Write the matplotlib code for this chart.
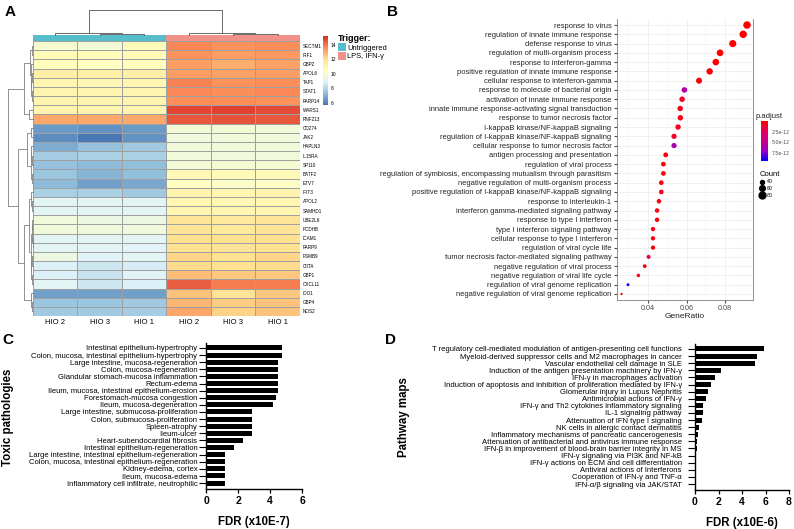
import numpy as np
import matplotlib
matplotlib.use("Agg")
import matplotlib.pyplot as plt
from matplotlib.colors import LinearSegmentedColormap, ListedColormap, Normalize
from matplotlib.patches import Patch
from matplotlib.lines import Line2D

plt.rcParams.update({
    "font.family": ["Liberation Sans", "DejaVu Sans"],
    "font.size": 6,
    "axes.linewidth": 0.8,
})

W, H = 794, 529   # figure size in px

# ── Panel A data: heatmap ─────────────────────────────────────────────────────
samples = ["HIO 2", "HIO 3", "HIO 1", "HIO 2", "HIO 3", "HIO 1"]
trigger = ["Untriggered"] * 3 + ["LPS, IFN-γ"] * 3
trigger_levels = ["Untriggered", "LPS, IFN-γ"]
genes = ["SECTM1", "IRF1", "GBP2", "APOL6", "TAP1", "STAT1", "PARP14", "WARS1",
         "RNF213", "CD274", "JAK2", "HAPLN3", "IL15RA", "SP110", "BATF2", "ETV7",
         "IFIT3", "APOL2", "SAMHD1", "UBE2L6", "PCDHB", "ICAM1", "PARP9", "PSMB9",
         "CIITA", "GBP1", "CXCL11", "IDO1", "GBP4", "NOS2"]
expr = np.array([
    [10.0, 9.8, 10.6, 13.7, 13.5, 13.6],
    [10.7, 10.6, 10.7, 13.5, 13.3, 13.4],
    [10.5, 10.4, 10.5, 13.3, 13.0, 13.2],
    [11.3, 11.2, 11.3, 13.3, 13.2, 13.3],
    [10.9, 10.8, 10.9, 13.8, 13.5, 13.6],
    [11.0, 11.0, 11.0, 13.7, 13.6, 13.7],
    [11.0, 11.0, 11.0, 13.6, 13.6, 13.5],
    [11.0, 11.0, 11.0, 14.8, 14.9, 14.7],
    [13.1, 13.1, 13.1, 14.5, 14.6, 14.5],
    [6.5, 6.3, 6.5, 9.8, 9.8, 9.7],
    [6.2, 5.8, 6.3, 9.6, 9.7, 9.7],
    [6.9, 7.4, 7.6, 9.7, 9.7, 9.7],
    [7.7, 7.8, 7.8, 9.7, 9.7, 9.7],
    [7.4, 7.2, 7.3, 9.8, 9.9, 9.9],
    [7.5, 7.1, 7.3, 10.8, 10.7, 10.7],
    [7.2, 6.6, 6.8, 10.4, 10.2, 10.3],
    [7.8, 7.8, 7.6, 11.0, 10.9, 11.0],
    [9.0, 9.0, 9.0, 10.9, 10.8, 10.9],
    [9.0, 9.0, 9.0, 10.9, 10.9, 10.9],
    [9.7, 9.5, 9.5, 11.8, 11.6, 11.8],
    [9.7, 9.6, 9.6, 11.8, 11.6, 11.8],
    [9.0, 9.0, 9.0, 12.0, 12.0, 12.0],
    [9.0, 9.0, 8.9, 12.0, 11.8, 12.0],
    [9.5, 8.9, 9.0, 12.2, 12.0, 12.2],
    [8.8, 8.5, 8.7, 12.1, 12.0, 12.1],
    [8.8, 8.4, 8.9, 12.7, 12.5, 12.5],
    [9.0, 8.5, 8.8, 14.4, 13.9, 13.9],
    [6.6, 6.6, 6.6, 12.6, 11.8, 12.5],
    [7.5, 7.5, 7.6, 12.8, 12.4, 12.6],
    [7.6, 7.6, 7.7, 13.1, 12.3, 12.6],
])
# linkage merges: (child a, child b, height); ids >= n are earlier merges
row_links = [(0, 1, 0.05), (3, 4, 0.03), (5, 6, 0.04), (31, 32, 0.08),
             (2, 33, 0.10), (30, 34, 0.14), (7, 8, 0.16), (35, 36, 0.36),
             (9, 10, 0.08), (12, 13, 0.04), (11, 39, 0.07), (14, 15, 0.05),
             (40, 41, 0.10), (38, 42, 0.25), (17, 18, 0.03), (16, 44, 0.07),
             (19, 20, 0.03), (21, 22, 0.02), (46, 47, 0.06), (23, 24, 0.04),
             (25, 26, 0.06), (49, 50, 0.08), (48, 51, 0.10), (45, 52, 0.16),
             (28, 29, 0.04), (27, 54, 0.10), (53, 55, 0.36), (43, 56, 0.60),
             (37, 57, 1.00)]
col_links = [(1, 2, 0.05), (0, 6, 0.08), (4, 5, 0.05), (3, 8, 0.08), (7, 9, 1.00)]

# ── Panel B data: GO dot plot ────────────────────────────────────────────────
go_terms = [
    "response to virus", "regulation of innate immune response",
    "defense response to virus", "regulation of multi-organism process",
    "response to interferon-gamma", "positive regulation of innate immune response",
    "cellular response to interferon-gamma", "response to molecule of bacterial origin",
    "activation of innate immune response",
    "innate immune response-activating signal transduction",
    "response to tumor necrosis factor", "I-kappaB kinase/NF-kappaB signaling",
    "regulation of I-kappaB kinase/NF-kappaB signaling",
    "cellular response to tumor necrosis factor", "antigen processing and presentation",
    "regulation of viral process",
    "regulation of symbiosis, encompassing mutualism through parasitism",
    "negative regulation of multi-organism process",
    "positive regulation of I-kappaB kinase/NF-kappaB signaling",
    "response to interleukin-1", "interferon gamma-mediated signaling pathway",
    "response to type I interferon", "type I interferon signaling pathway",
    "cellular response to type I interferon", "regulation of viral cycle life",
    "tumor necrosis factor-mediated signaling pathway",
    "negative regulation of viral process", "negative regulation of viral life cycle",
    "regulation of viral genome replication",
    "negative regulation of viral genome replication",
]
gene_ratio = [0.0914, 0.0894, 0.0840, 0.0774, 0.0752, 0.0720, 0.0665, 0.0589,
              0.0577, 0.0567, 0.0568, 0.0556, 0.0535, 0.0535, 0.0492, 0.0480,
              0.0480, 0.0469, 0.0469, 0.0457, 0.0447, 0.0447, 0.0426, 0.0426,
              0.0426, 0.0403, 0.0383, 0.0350, 0.0296, 0.0263]
go_count = [91, 89, 84, 77, 75, 72, 66, 59, 58, 57, 57, 56, 54, 54, 49, 48,
            48, 47, 47, 46, 45, 45, 43, 43, 43, 40, 38, 35, 30, 26]
p_adjust = [0.01e-12, 0.02e-12, 0.05e-12, 0.05e-12, 0.1e-12, 0.1e-12, 0.2e-12,
            6.0e-12, 1.2e-12, 0.8e-12, 0.5e-12, 0.8e-12, 1.0e-12, 6.3e-12,
            0.3e-12, 0.3e-12, 0.3e-12, 0.4e-12, 0.9e-12, 0.6e-12, 0.5e-12,
            0.5e-12, 0.5e-12, 0.5e-12, 0.4e-12, 2.2e-12, 0.6e-12, 0.4e-12,
            9.3e-12, 0.3e-12]
count_legend = [40, 60, 80]

# ── Panel C data: toxic pathologies ──────────────────────────────────────────
tox_terms = [
    "Intestinal epithelium-hypertrophy",
    "Colon, mucosa, intestinal epithelium-hypertrophy",
    "Large intestine, mucosa-regeneration", "Colon, mucosa-regeneration",
    "Glandular stomach-mucosa inflammation", "Rectum-edema",
    "Ileum, mucosa, intestinal epithelium-erosion", "Forestomach-mucosa congestion",
    "Ileum, mucosa-degeneration", "Large intestine, submucosa-proliferation",
    "Colon, submucosa-proliferation", "Spleen-atrophy", "Ileum-ulcer",
    "Heart-subendocardial fibrosis", "Intestinal epithelium-regeneration",
    "Large intestine, intestinal epithelium-regeneration",
    "Colon, mucosa, intestinal epithelium-regeneration", "Kidney-edema, cortex",
    "Ileum, mucosa-edema", "Inflammatory cell infiltrate, neutrophilic",
]
tox_fdr = [4.77, 4.77, 4.52, 4.52, 4.52, 4.52, 4.52, 4.40, 4.20, 2.88,
           2.88, 2.88, 2.88, 2.31, 1.77, 1.17, 1.17, 1.17, 1.17, 1.17]

# ── Panel D data: pathway maps ───────────────────────────────────────────────
path_terms = [
    "T regulatory cell-mediated modulation of antigen-presenting cell functions",
    "Myeloid-derived suppressor cells and M2 macrophages in cancer",
    "Vascular endothelial cell damage in SLE",
    "Induction of the antigen presentation machinery by IFN-γ",
    "IFN-γ in macrophages activation",
    "Induction of apoptosis and inhibition of proliferation mediated by IFN-γ",
    "Glomerular injury in Lupus Nephritis", "Antimicrobial actions of IFN-γ",
    "IFN-γ and Th2 cytokines inflammatory signaling", "IL-1 signaling pathway",
    "Attenuation of IFN type I signaling", "NK cells in allergic contact dermatitis",
    "Inflammatory mechanisms of pancreatic cancerogenesis",
    "Attenuation of antibacterial and antivirus immune response",
    "IFN-β in improvement of blood-brain barrier integrity in MS",
    "IFN-γ signaling via PI3K and NF-kB",
    "IFN-γ actions on ECM and cell differentiation",
    "Antiviral actions of Interferons", "Cooperation of IFN-γ and TNF-α",
    "IFN-α/β signaling via JAK/STAT",
]
path_fdr = [5.90, 5.28, 5.13, 2.21, 1.73, 1.36, 1.11, 0.96, 0.68, 0.68,
            0.57, 0.37, 0.23, 0.20, 0.14, 0.11, 0.11, 0.10, 0.05, 0.03]

TEAL, SALMON = "#55BDCB", "#F0918A"


def box(x0, y0, x1, y1):
    # pixel box (origin top-left) -> figure rect
    return [x0 / W, 1 - y1 / H, (x1 - x0) / W, (y1 - y0) / H]


def draw_dendro(ax, links, n, top, color):
    pos = {i: i + 0.5 for i in range(n)}
    hgt = {i: 0.0 for i in range(n)}
    for k, (a, b, h) in enumerate(links):
        xs = [pos[a], pos[a], pos[b], pos[b]]
        ys = [hgt[a], h, h, hgt[b]]
        if top:
            ax.plot(xs, ys, color=color, lw=0.6, clip_on=False)
        else:
            ax.plot(ys, xs, color=color, lw=0.6, clip_on=False)
        pos[n + k] = (pos[a] + pos[b]) / 2
        hgt[n + k] = h
    ax.axis("off")


fig = plt.figure(figsize=(W / 100, H / 100), dpi=100)

# ── Panel A ──────────────────────────────────────────────────────────────────
heat_cmap = LinearSegmentedColormap.from_list(
    "pheat", ["#4575B4", "#91BFDB", "#E0F3F8", "#FFFFBF", "#FEE090", "#FC8D59", "#D73027"])
axA = fig.add_axes(box(33, 41, 300, 316))
mesh = axA.pcolormesh(expr, cmap=heat_cmap, vmin=5.7, vmax=15.2,
                      edgecolors="#A0A0A0", linewidth=0.4)
axA.set_xlim(0, len(samples)); axA.set_ylim(len(genes), 0)
axA.set_xticks(np.arange(len(samples)) + 0.5)
axA.set_xticklabels(samples, fontsize=5.5)
axA.yaxis.tick_right()
axA.set_yticks(np.arange(len(genes)) + 0.5)
axA.set_yticklabels(genes, fontsize=3.3)
axA.tick_params(length=0, pad=2)
for s in axA.spines.values():
    s.set_visible(False)

axAnn = fig.add_axes(box(33, 35, 300, 40.5))
grp = np.array([[trigger_levels.index(t) for t in trigger]])
axAnn.pcolormesh(grp, cmap=ListedColormap([TEAL, SALMON]), vmin=0, vmax=1)
axAnn.axis("off")

axTop = fig.add_axes(box(33, 9, 300, 35))
draw_dendro(axTop, col_links, len(samples), True, "#555555")
axTop.set_xlim(0, len(samples)); axTop.set_ylim(0, 1.05)

axLeft = fig.add_axes(box(7, 41, 33, 316))
draw_dendro(axLeft, row_links, len(genes), False, "#808080")
axLeft.set_ylim(len(genes), 0); axLeft.set_xlim(1.04, 0)

caxA = fig.add_axes(box(323, 36, 328, 105))
cb = fig.colorbar(mesh, cax=caxA, ticks=[6, 8, 10, 12, 14])
cb.outline.set_visible(False)
caxA.tick_params(labelsize=3.6, length=0, pad=2)

legA = fig.legend([Patch(fc=TEAL), Patch(fc=SALMON)], trigger_levels, title="Trigger:",
                  loc="upper left", bbox_to_anchor=(334 / W, 1 - 30 / H), frameon=False,
                  fontsize=5.4, title_fontsize=6.5, handlelength=1.1, handleheight=1.2,
                  handletextpad=0.15, borderpad=0, labelspacing=0.05, alignment="left")
legA.get_title().set_fontweight("bold")

# ── Panel B ──────────────────────────────────────────────────────────────────
padj_cmap = LinearSegmentedColormap.from_list(
    "padj", ["#FF0000", "#E8005A", "#C9008D", "#9800C4", "#0000FF"])
cmin, cmax, dmin, dmax = min(go_count), max(go_count), 2.3, 7.5


def dot_pt(c):
    # area-linear size scale, returns diameter in points
    return np.sqrt(dmin ** 2 + (dmax ** 2 - dmin ** 2) * (c - cmin) / (cmax - cmin)) * 0.72


axB = fig.add_axes(box(617, 19, 753, 300))
yb = np.arange(len(go_terms))
sc = axB.scatter(gene_ratio, yb, s=[dot_pt(c) ** 2 for c in go_count], c=p_adjust,
                 cmap=padj_cmap, norm=Normalize(0, 9.5e-12), edgecolors="none", zorder=3)
axB.set_ylim(len(go_terms) - 0.35, -0.65)
axB.set_xlim(0.0239, 0.0945)
axB.set_xticks([0.04, 0.06, 0.08])
axB.set_xticks([0.03, 0.05, 0.07, 0.09], minor=True)
axB.set_yticks(yb)
axB.set_yticklabels(go_terms, fontsize=5.4, color="#222222")
axB.tick_params(axis="x", labelsize=5.2, colors="#4D4D4D", length=2, pad=1.5)
axB.tick_params(axis="y", length=2, pad=2, color="#4D4D4D")
axB.tick_params(which="minor", length=0)
axB.grid(True, which="major", color="#EBEBEB", lw=0.5)
axB.grid(True, which="minor", axis="x", color="#F2F2F2", lw=0.3)
axB.set_axisbelow(True)
axB.spines["top"].set_visible(False)
for s in ["left", "right", "bottom"]:
    axB.spines[s].set_color("#7F7F7F"); axB.spines[s].set_linewidth(0.6)
axB.set_xlabel("GeneRatio", fontsize=6, labelpad=1, color="#222222")

caxB = fig.add_axes(box(761, 121, 768, 161))
cbB = fig.colorbar(sc, cax=caxB, ticks=[2.5e-12, 5e-12, 7.5e-12])
cbB.set_ticklabels(["2.5e-12", "5.0e-12", "7.5e-12"])
cbB.outline.set_visible(False)
caxB.invert_yaxis()
caxB.tick_params(labelsize=3.8, length=1.5, color="white", pad=1.5, labelcolor="#4D4D4D")
fig.text(756 / W, 1 - 116 / H, "p.adjust", fontsize=5.5, va="center", color="#222222")

legB = fig.legend([Line2D([], [], marker="o", ls="", color="black", markersize=dot_pt(c))
                   for c in count_legend], [str(c) for c in count_legend], title="Count",
                  loc="upper left", bbox_to_anchor=(757 / W, 1 - 168 / H), frameon=False,
                  fontsize=3.8, title_fontsize=5.5, handlelength=1.0, handletextpad=0.3,
                  borderpad=0, labelspacing=0.35, alignment="left")

# ── Panels C and D: horizontal bars ──────────────────────────────────────────
for pbox, terms, vals, xmax, ylab, xlab, ylab_x, tpad in [
    ((206, 343, 302, 489), tox_terms, tox_fdr, 6, "Toxic pathologies", "FDR (x10E-7)", 8, 1.2),
    ((695, 344, 789, 490), path_terms, path_fdr, 8, "Pathway maps", "FDR (x10E-6)", 404, 4.5),
]:
    ax = fig.add_axes(box(*pbox))
    yy = np.arange(len(terms))
    ax.barh(yy, vals, height=0.7, color="black")
    ax.set_ylim(len(terms) - 0.16, -0.7)
    ax.set_xlim(0, xmax)
    ax.set_xticks(np.arange(0, xmax + 1, 2))
    ax.set_yticks(yy)
    ax.set_yticklabels(terms, fontsize=5.5)
    for t in ax.get_xticklabels():
        t.set_fontweight("bold")
    ax.tick_params(axis="x", labelsize=7.5, length=3, width=0.9, pad=2)
    ax.tick_params(axis="y", length=5, width=0.8, pad=tpad)
    for s in ["top", "right"]:
        ax.spines[s].set_visible(False)
    for s in ["left", "bottom"]:
        ax.spines[s].set_linewidth(1.0)
    ax.set_xlabel(xlab, fontsize=8.3, fontweight="bold")
    ax.xaxis.set_label_coords(0.5, -0.185)
    fig.text(ylab_x / W, 1 - 417 / H, ylab, rotation=90, fontsize=8.3,
             fontweight="bold", ha="center", va="center")

# ── Panel letters ────────────────────────────────────────────────────────────
for lx, ly, letter in [(10, 12, "A"), (393, 12, "B"), (8, 340, "C"), (391, 340, "D")]:
    fig.text(lx / W, 1 - ly / H, letter, fontsize=11, fontweight="bold",
             ha="center", va="center")

fig.savefig("out.png", dpi=100)
